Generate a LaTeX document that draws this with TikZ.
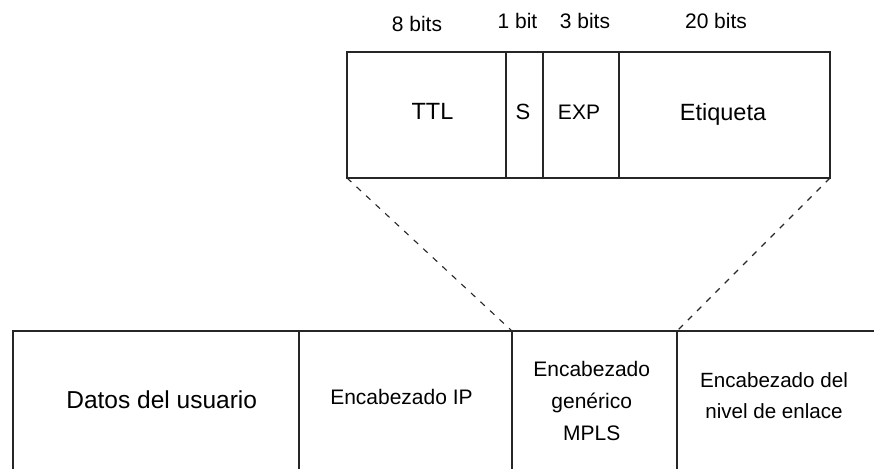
\documentclass[tikz,border=0pt]{standalone}
\usepackage{fontspec}
\setmainfont{Liberation Sans}
\begin{document}
\begin{tikzpicture}[x=1pt,y=-1pt,
  cell/.style={draw=black!85,line width=1.5pt,rectangle,inner sep=0pt,outer sep=0pt},
  txt/.style={inner sep=0pt,anchor=base,align=center},
  bitlbl/.style={inner sep=0pt,anchor=base,font=\fontsize{21}{24}\selectfont},
  zoomline/.style={draw=black!85,line width=1.1pt,dash pattern=on 6pt off 7pt}]
\useasboundingbox (0,0) rectangle (874,468);
\clip (0,0) rectangle (874,468);
% top label structure
\node[cell,minimum width=159pt,minimum height=126pt] (ttl) at (426.5,115) {};
\node[cell,minimum width=37pt,minimum height=126pt] (s) at (524.5,115) {};
\node[cell,minimum width=76pt,minimum height=126pt] (exp) at (581,115) {};
\node[cell,minimum width=211pt,minimum height=126pt] (etq) at (724.5,115) {};
\node[txt,font=\fontsize{23.5}{28}\selectfont] (tttl) at (432.5,120) {TTL};
\node[txt,font=\fontsize{22}{28}\selectfont] (ts) at (523,120) {S};
\node[txt,font=\fontsize{21}{28}\selectfont] (texp) at (579,120) {EXP};
\node[txt,font=\fontsize{23.5}{28}\selectfont] (tetq) at (723,121) {Etiqueta};
% bit widths
\node[bitlbl] (b8) at (417,32) {8 bits};
\node[bitlbl] (b1) at (517.5,29) {1 bit};
\node[bitlbl] (b3) at (585,29) {3 bits};
\node[bitlbl] (b20) at (716,29) {20 bits};
% packet
\node[cell,minimum width=286pt,minimum height=141pt] (dat) at (156,401.5) {};
\node[cell,minimum width=213pt,minimum height=141pt] (ip) at (405.5,401.5) {};
\node[cell,minimum width=165pt,minimum height=141pt] (mpls) at (594.5,401.5) {};
\node[cell,minimum width=220pt,minimum height=141pt] (enl) at (787,401.5) {};
\node[txt,font=\fontsize{24.5}{30}\selectfont] (tdat) at (161.7,408) {Datos del usuario};
\node[txt,font=\fontsize{21}{30}\selectfont] (tip) at (401.5,404) {Encabezado IP};
\node[txt,font=\fontsize{21}{32}\selectfont] (tmpls) at (591.7,440) {Encabezado\\genérico\\MPLS};
\node[txt,font=\fontsize{20.6}{31}\selectfont] (tenl) at (774,418) {Encabezado del\\nivel de enlace};
% zoom lines
\draw[zoomline] (ttl.south west) -- (ip.north east);
\draw[zoomline] (etq.south east) -- (mpls.north east);
\end{tikzpicture}
\end{document}
